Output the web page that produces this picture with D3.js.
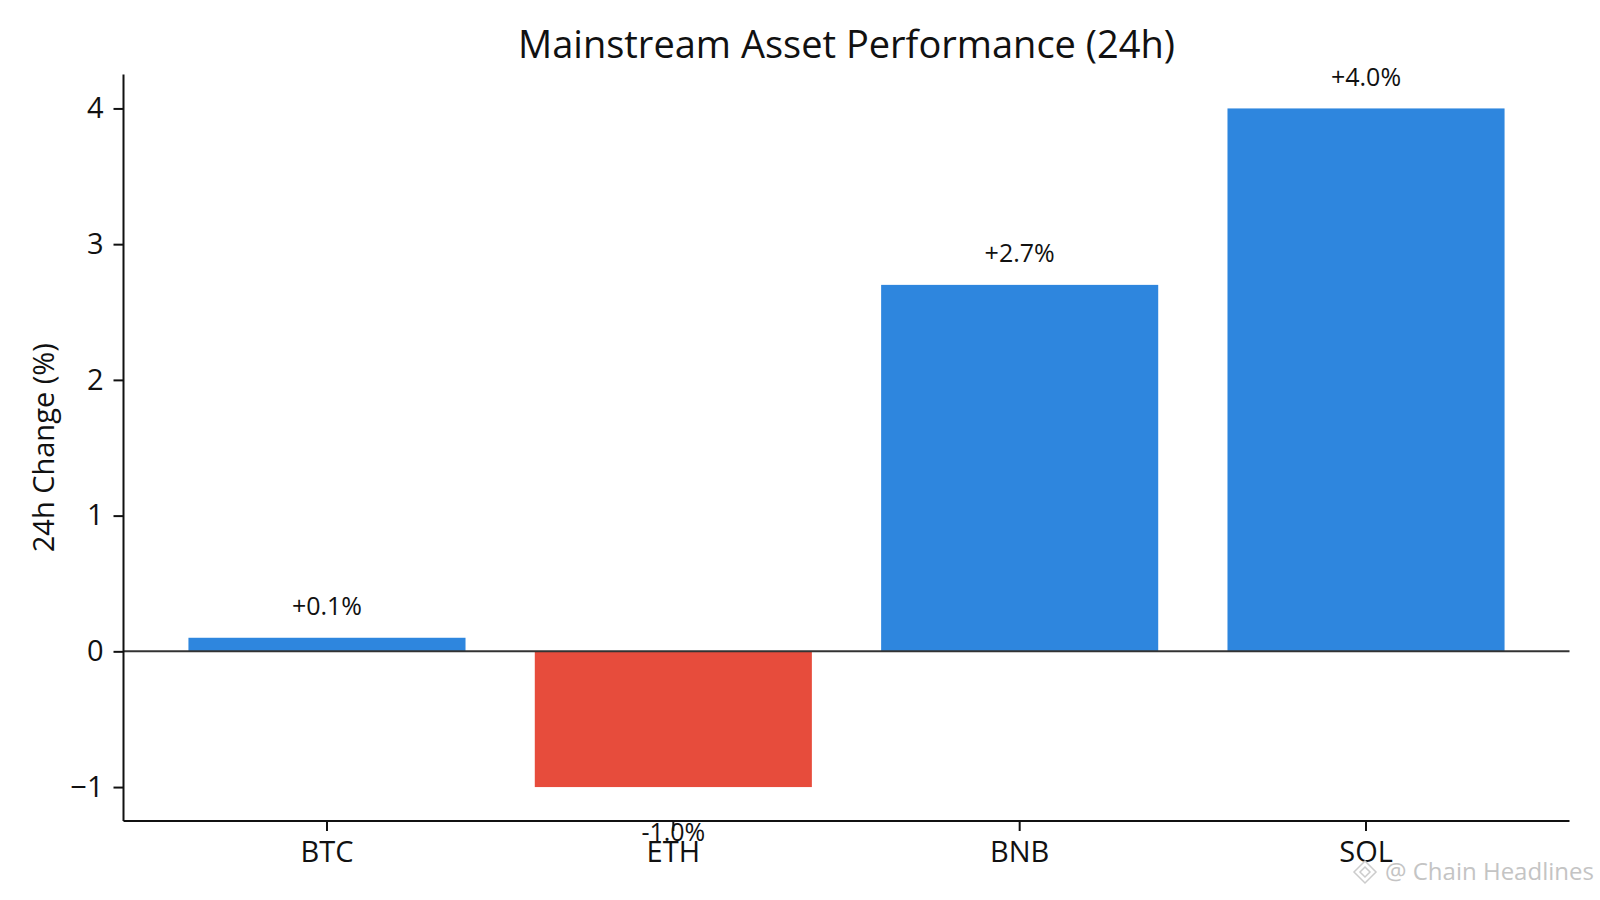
<!DOCTYPE html>
<html>
<head>
<meta charset="utf-8">
<script src="https://cdn.jsdelivr.net/npm/d3@7"></script>
<style>
  body { margin: 0; background: #fff; }
  svg { display: block; font-family: "Open Sans", "Noto Sans", sans-serif; }
</style>
</head>
<body>
<div id="chart"></div>
<script>
// data
const assets = ["BTC", "ETH", "BNB", "SOL"];
const changes = [0.1, -1.0, 2.7, 4.0];
const yTicks = [-1, 0, 1, 2, 3, 4];

const width = 1600;
const height = 900;
const margin = { top: 74.5, right: 30.5, bottom: 79, left: 123.5 };
const font = "'Open Sans', 'Noto Sans', sans-serif";

const data = assets.map((a, i) => ({ asset: a, value: changes[i] }));

// scales (matplotlib-ish 5% margins)
const yMin = d3.min(changes.concat([0]));
const yMax = d3.max(changes);
const pad = (yMax - yMin) * 0.05;

const xScale = d3.scaleBand()
    .domain(assets)
    .range([margin.left, width - margin.right])
    .paddingInner(0.2)
    .paddingOuter(0.1875);

const yScale = d3.scaleLinear()
    .domain([yMin - pad, yMax + pad])
    .range([height - margin.bottom, margin.top]);

const svg = d3.select("#chart")
    .append("svg")
    .attr("width", width)
    .attr("height", height);

// title
svg.append("text")
    .attr("x", (margin.left + width - margin.right) / 2)
    .attr("y", 58)
    .attr("text-anchor", "middle")
    .attr("font-size", 38)
    .attr("fill", "#111")
    .text("Mainstream Asset Performance (24h)");

// bars
svg.selectAll("rect.bar")
    .data(data)
    .enter()
    .append("rect")
    .attr("class", "bar")
    .attr("x", d => xScale(d.asset))
    .attr("y", d => yScale(Math.max(0, d.value)))
    .attr("width", xScale.bandwidth())
    .attr("height", d => Math.abs(yScale(d.value) - yScale(0)))
    .attr("fill", d => d.value >= 0 ? "#2e86de" : "#e74c3c");

// zero line
svg.append("line")
    .attr("x1", margin.left)
    .attr("x2", width - margin.right)
    .attr("y1", yScale(0))
    .attr("y2", yScale(0))
    .attr("stroke", "#333")
    .attr("stroke-width", 2);

// value labels
svg.selectAll("text.val")
    .data(data)
    .enter()
    .append("text")
    .attr("class", "val")
    .attr("x", d => xScale(d.asset) + xScale.bandwidth() / 2)
    .attr("y", d => d.value >= 0 ? yScale(d.value) - 22.5 : yScale(d.value) + 54)
    .attr("text-anchor", "middle")
    .attr("font-size", 25)
    .attr("fill", "#111")
    .text(d => (d.value >= 0 ? "+" : "") + d.value.toFixed(1) + "%");

// x axis
const xAxis = svg.append("g")
    .attr("transform", `translate(0, ${height - margin.bottom})`)
    .call(d3.axisBottom(xScale).tickSize(10).tickPadding(10));
xAxis.select(".domain").attr("stroke", "#111").attr("stroke-width", 2)
    .attr("d", `M${margin.left},0H${width - margin.right}`);
xAxis.selectAll(".tick line").attr("stroke", "#111").attr("stroke-width", 2);
xAxis.selectAll(".tick text")
    .attr("font-size", 29)
    .attr("font-family", font)
    .attr("fill", "#111");

// y axis
const yAxis = svg.append("g")
    .attr("transform", `translate(${margin.left}, 0)`)
    .call(d3.axisLeft(yScale).tickValues(yTicks).tickSize(10).tickPadding(10)
        .tickFormat(d => d < 0 ? "\u2212" + Math.abs(d) : d));
yAxis.select(".domain").attr("stroke", "#111").attr("stroke-width", 2)
    .attr("d", `M0,${height - margin.bottom}V${margin.top}`);
yAxis.selectAll(".tick line").attr("stroke", "#111").attr("stroke-width", 2);
yAxis.selectAll(".tick text")
    .attr("font-size", 29)
    .attr("font-family", font)
    .attr("fill", "#111");

// y label
svg.append("text")
    .attr("transform", `translate(54, ${(margin.top + height - margin.bottom) / 2}) rotate(-90)`)
    .attr("text-anchor", "middle")
    .attr("font-size", 29)
    .attr("fill", "#111")
    .text("24h Change (%)");

// watermark
const wm = svg.append("g").attr("transform", "translate(1365, 872)");
wm.append("path")
    .attr("d", "M0,-11 L11,0 L0,11 L-11,0 Z M0,-5 L5,0 L0,5 L-5,0 Z")
    .attr("fill", "none")
    .attr("stroke", "#ccc")
    .attr("stroke-width", 1.5);
wm.append("text")
    .attr("x", 20)
    .attr("y", 8)
    .attr("font-family", font)
    .attr("font-size", 24)
    .attr("fill", "#c4c4c4")
    .text("@ Chain Headlines");
</script>
</body>
</html>
